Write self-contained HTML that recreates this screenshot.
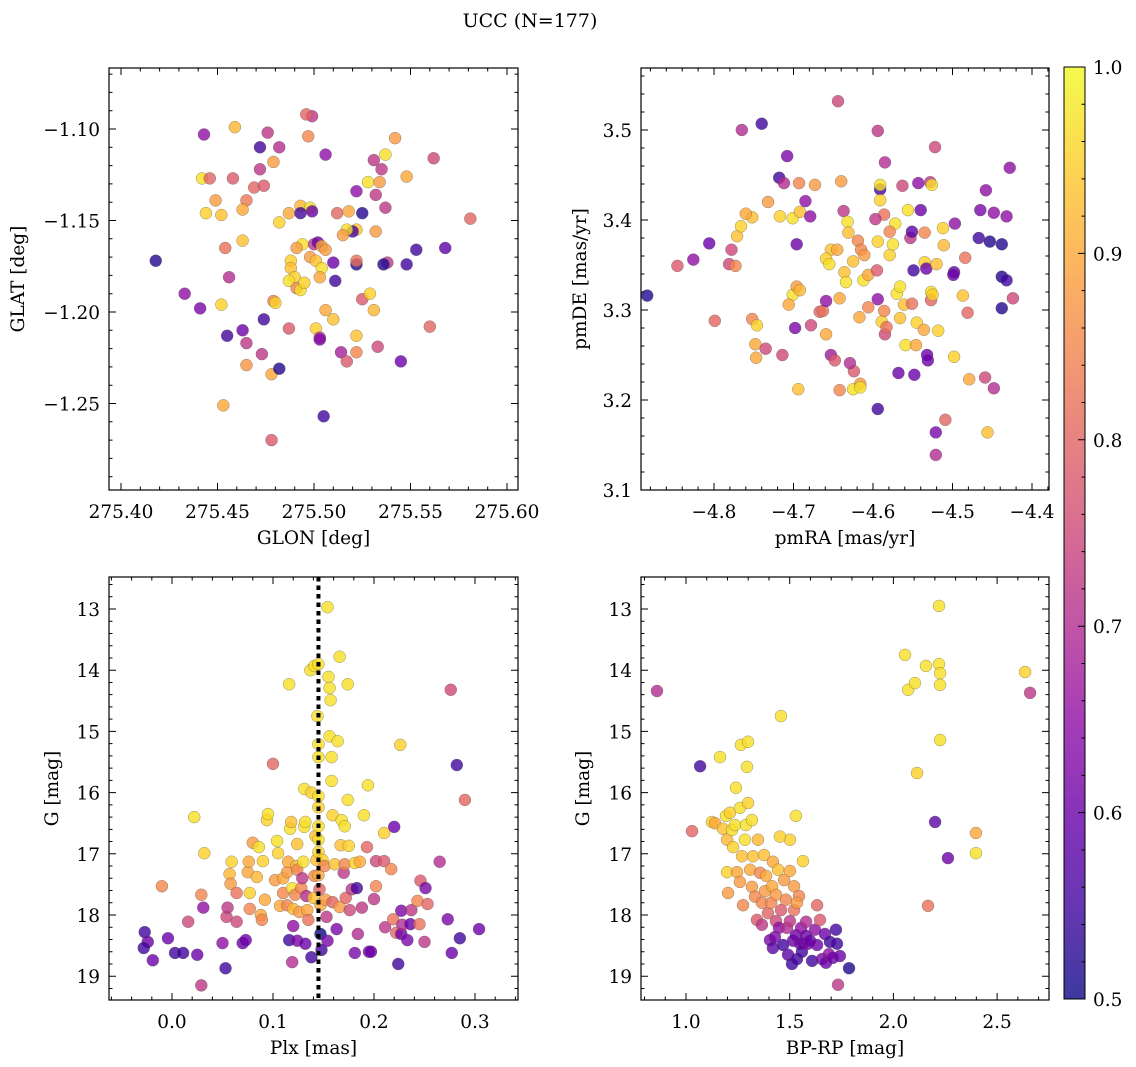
<!DOCTYPE html>
<html><head><meta charset="utf-8">
<style>
html,body{margin:0;padding:0;background:#fff;}
svg{display:block;font-family:"DejaVu Serif","Liberation Serif",serif;}
</style></head>
<body>
<svg id="fig" width="1136" height="1067" viewBox="0 0 1136 1067" xmlns="http://www.w3.org/2000/svg">
<text x="530" y="27" font-size="19" text-anchor="middle">UCC (N=177)</text>
</svg>
<script>
// ---- Panel 1: GLON vs GLAT ----
const p1Glon=[275.418,275.433,275.441,275.443,275.442,275.446,275.449,275.444,275.452,275.458,275.459,275.472,275.472,275.469,275.465,275.463,275.476,275.479,275.482,275.474,275.463,275.456,275.454,275.452,275.455,275.463,275.465,275.473,275.465,275.474,275.479,275.480,275.478,275.453,275.478,275.482,275.487,275.493,275.498,275.499,275.497,275.499,275.506,275.494,275.491,275.488,275.488,275.490,275.487,275.491,275.493,275.495,275.498,275.500,275.502,275.504,275.506,275.501,275.504,275.503,275.510,275.511,275.506,275.501,275.503,275.503,275.512,275.518,275.522,275.520,275.517,275.515,275.510,275.514,275.517,275.522,275.522,275.525,275.529,275.531,275.533,275.522,275.522,275.525,275.531,275.532,275.528,275.534,275.532,275.522,275.538,275.537,275.542,275.535,275.548,275.537,275.536,275.545,275.548,275.553,275.560,275.568,275.581,275.562,275.505,275.482,275.496,275.487,275.493];
const p1Glat=[-1.172,-1.190,-1.198,-1.103,-1.127,-1.127,-1.139,-1.146,-1.147,-1.127,-1.099,-1.110,-1.122,-1.132,-1.139,-1.144,-1.102,-1.118,-1.110,-1.131,-1.161,-1.181,-1.165,-1.196,-1.213,-1.210,-1.217,-1.223,-1.229,-1.204,-1.194,-1.195,-1.234,-1.251,-1.270,-1.151,-1.146,-1.142,-1.143,-1.145,-1.104,-1.093,-1.114,-1.163,-1.165,-1.172,-1.176,-1.181,-1.183,-1.187,-1.188,-1.184,-1.170,-1.163,-1.162,-1.164,-1.166,-1.172,-1.176,-1.181,-1.173,-1.183,-1.199,-1.209,-1.214,-1.215,-1.146,-1.145,-1.155,-1.156,-1.155,-1.158,-1.204,-1.222,-1.227,-1.222,-1.213,-1.193,-1.190,-1.199,-1.219,-1.174,-1.134,-1.146,-1.117,-1.156,-1.129,-1.129,-1.136,-1.172,-1.173,-1.114,-1.105,-1.122,-1.126,-1.143,-1.174,-1.227,-1.174,-1.166,-1.208,-1.165,-1.149,-1.116,-1.257,-1.231,-1.092,-1.209,-1.146];
const p1Prob=[0.52,0.65,0.62,0.65,0.97,0.80,0.88,0.95,0.93,0.78,0.92,0.55,0.72,0.80,0.83,0.90,0.72,0.88,0.70,0.78,0.93,0.70,0.82,0.95,0.55,0.60,0.72,0.72,0.87,0.55,0.85,0.95,0.90,0.90,0.78,0.95,0.90,0.92,0.97,0.60,0.85,0.72,0.65,0.97,0.88,0.95,0.93,0.95,0.97,0.85,0.97,0.95,0.88,0.72,0.60,0.90,0.88,0.93,0.97,0.90,0.60,0.55,0.90,0.95,0.70,0.63,0.80,0.90,0.93,0.55,0.97,0.88,0.93,0.68,0.78,0.85,0.93,0.78,0.95,0.92,0.75,0.52,0.65,0.52,0.72,0.88,0.97,0.88,0.72,0.82,0.72,0.97,0.88,0.72,0.90,0.72,0.52,0.60,0.55,0.55,0.80,0.58,0.80,0.75,0.55,0.52,0.80,0.78,0.55];
const p1XTicks=["275.40","275.45","275.50","275.55","275.60"];
const p1YTicks=["-1.10","-1.15","-1.20","-1.25"];

// ---- Panel 2: pmRA vs pmDE ----
const p2Pmra=[-4.884,-4.826,-4.846,-4.806,-4.799,-4.778,-4.781,-4.773,-4.765,-4.740,-4.752,-4.771,-4.766,-4.752,-4.760,-4.718,-4.708,-4.712,-4.693,-4.696,-4.732,-4.717,-4.701,-4.692,-4.679,-4.673,-4.685,-4.701,-4.696,-4.692,-4.706,-4.746,-4.748,-4.747,-4.735,-4.714,-4.694,-4.698,-4.678,-4.667,-4.663,-4.659,-4.659,-4.653,-4.648,-4.642,-4.625,-4.624,-4.629,-4.616,-4.616,-4.653,-4.659,-4.655,-4.645,-4.640,-4.644,-4.637,-4.632,-4.631,-4.636,-4.634,-4.625,-4.619,-4.615,-4.611,-4.612,-4.606,-4.606,-4.617,-4.642,-4.594,-4.591,-4.591,-4.591,-4.585,-4.586,-4.597,-4.594,-4.595,-4.594,-4.589,-4.586,-4.585,-4.583,-4.594,-4.579,-4.575,-4.572,-4.579,-4.570,-4.566,-4.561,-4.566,-4.568,-4.563,-4.556,-4.553,-4.551,-4.559,-4.546,-4.545,-4.548,-4.549,-4.551,-4.543,-4.540,-4.536,-4.535,-4.533,-4.532,-4.531,-4.528,-4.526,-4.527,-4.527,-4.535,-4.525,-4.522,-4.521,-4.521,-4.520,-4.518,-4.512,-4.511,-4.509,-4.497,-4.498,-4.499,-4.498,-4.487,-4.484,-4.481,-4.479,-4.467,-4.465,-4.458,-4.459,-4.456,-4.453,-4.448,-4.448,-4.438,-4.438,-4.438,-4.432,-4.432,-4.428,-4.424];
const p2Pmde=[3.316,3.356,3.349,3.374,3.288,3.367,3.351,3.349,3.500,3.507,3.290,3.382,3.393,3.403,3.407,3.447,3.471,3.441,3.441,3.373,3.420,3.404,3.402,3.409,3.404,3.439,3.421,3.317,3.326,3.322,3.306,3.283,3.262,3.247,3.257,3.250,3.212,3.280,3.283,3.298,3.299,3.273,3.310,3.250,3.244,3.211,3.212,3.232,3.241,3.218,3.214,3.367,3.357,3.351,3.367,3.443,3.532,3.410,3.398,3.386,3.342,3.331,3.354,3.377,3.367,3.361,3.333,3.339,3.303,3.292,3.313,3.499,3.434,3.439,3.422,3.464,3.406,3.401,3.376,3.344,3.312,3.287,3.299,3.273,3.281,3.190,3.361,3.373,3.396,3.387,3.318,3.326,3.306,3.291,3.230,3.438,3.411,3.380,3.307,3.261,3.261,3.286,3.228,3.344,3.387,3.441,3.411,3.278,3.353,3.346,3.250,3.244,3.442,3.439,3.320,3.311,3.386,3.317,3.481,3.139,3.164,3.351,3.277,3.391,3.372,3.178,3.396,3.342,3.339,3.248,3.316,3.358,3.297,3.223,3.380,3.411,3.433,3.225,3.164,3.376,3.213,3.408,3.373,3.337,3.302,3.333,3.404,3.458,3.313];
const p2Prob=[0.52,0.65,0.78,0.60,0.80,0.75,0.75,0.85,0.70,0.55,0.85,0.93,0.95,0.93,0.90,0.55,0.62,0.70,0.85,0.60,0.88,0.95,0.97,0.93,0.65,0.88,0.65,0.97,0.88,0.92,0.90,0.95,0.90,0.90,0.75,0.75,0.93,0.62,0.75,0.80,0.82,0.90,0.65,0.67,0.78,0.85,0.97,0.78,0.70,0.88,0.97,0.93,0.95,0.97,0.90,0.88,0.75,0.72,0.97,0.93,0.93,0.97,0.93,0.85,0.85,0.88,0.97,0.90,0.85,0.90,0.90,0.72,0.55,0.97,0.95,0.70,0.82,0.72,0.95,0.78,0.65,0.95,0.85,0.75,0.82,0.55,0.95,0.97,0.97,0.85,0.97,0.97,0.93,0.93,0.60,0.75,0.97,0.72,0.82,0.97,0.90,0.95,0.60,0.55,0.58,0.65,0.60,0.90,0.95,0.60,0.60,0.60,0.72,0.97,0.97,0.80,0.85,0.95,0.75,0.70,0.62,0.93,0.95,0.95,0.92,0.80,0.65,0.60,0.60,0.95,0.93,0.82,0.80,0.90,0.55,0.62,0.65,0.75,0.93,0.52,0.70,0.65,0.52,0.52,0.52,0.55,0.65,0.65,0.75];
const p2XTicks=["-4.8","-4.7","-4.6","-4.5","-4.4"];
const p2YTicks=["3.1","3.2","3.3","3.4","3.5"];

// ---- Panel 3: Plx vs G ----
const p3Plx=[-0.027,-0.024,-0.028,-0.019,-0.010,-0.004,0.003,0.011,0.016,0.022,0.025,0.029,0.029,0.031,0.032,0.053,0.050,0.054,0.055,0.057,0.058,0.059,0.064,0.064,0.070,0.073,0.075,0.077,0.077,0.076,0.080,0.084,0.086,0.088,0.089,0.092,0.090,0.094,0.095,0.100,0.102,0.105,0.104,0.107,0.110,0.110,0.114,0.114,0.115,0.116,0.117,0.118,0.119,0.120,0.116,0.120,0.119,0.122,0.123,0.124,0.124,0.124,0.126,0.128,0.129,0.130,0.131,0.132,0.131,0.132,0.133,0.134,0.135,0.137,0.138,0.138,0.140,0.141,0.142,0.143,0.141,0.144,0.145,0.145,0.145,0.145,0.145,0.145,0.145,0.145,0.146,0.147,0.147,0.148,0.145,0.149,0.151,0.152,0.153,0.154,0.154,0.155,0.156,0.156,0.157,0.158,0.158,0.159,0.159,0.161,0.163,0.164,0.166,0.166,0.167,0.168,0.170,0.171,0.171,0.172,0.174,0.174,0.175,0.176,0.178,0.181,0.181,0.183,0.184,0.186,0.190,0.188,0.193,0.194,0.195,0.197,0.200,0.202,0.202,0.210,0.210,0.211,0.217,0.219,0.220,0.222,0.224,0.226,0.227,0.227,0.228,0.233,0.236,0.237,0.243,0.245,0.246,0.250,0.251,0.253,0.265,0.273,0.276,0.277,0.282,0.285,0.290,0.304];
const p3G=[18.28,18.44,18.54,18.74,17.53,18.38,18.62,18.62,18.11,16.40,18.65,19.15,17.67,17.88,16.99,18.87,18.46,18.03,17.88,17.33,17.49,17.13,17.64,18.11,18.46,18.41,17.30,17.64,17.90,17.13,16.82,17.38,16.89,18.00,18.08,17.75,17.12,16.45,16.35,15.53,17.43,16.99,16.79,17.85,17.64,17.40,17.30,17.84,17.13,18.41,16.59,16.48,17.56,17.90,14.23,18.18,18.77,17.67,17.20,16.84,17.26,18.42,17.95,17.56,17.40,17.13,16.56,16.48,15.94,18.47,17.69,17.92,18.08,14.00,16.00,18.69,17.72,13.93,16.71,17.10,17.36,14.75,13.90,15.21,15.42,16.06,16.24,16.55,16.77,16.97,17.58,17.84,18.31,18.57,17.35,17.10,17.20,17.75,18.03,18.42,12.97,14.11,14.29,15.08,14.49,15.81,15.42,16.37,17.79,17.17,18.23,15.16,13.78,17.87,16.86,16.45,17.31,16.55,17.17,17.72,14.23,16.12,16.87,17.92,17.58,17.15,18.62,17.56,18.31,17.13,16.37,17.88,16.89,15.88,18.60,18.60,17.74,17.53,17.12,16.66,17.12,18.20,17.25,18.07,16.56,18.29,18.80,15.22,17.93,18.31,18.16,18.41,18.15,17.92,17.77,18.15,17.44,18.44,17.56,17.82,17.13,18.07,14.32,18.62,15.55,18.38,16.12,18.23];
const p3Prob=[0.55,0.60,0.55,0.60,0.85,0.60,0.55,0.55,0.75,0.97,0.60,0.72,0.85,0.65,0.95,0.55,0.65,0.75,0.72,0.92,0.88,0.95,0.82,0.75,0.60,0.60,0.90,0.95,0.85,0.90,0.88,0.92,0.97,0.90,0.85,0.90,0.95,0.95,0.97,0.80,0.88,0.95,0.97,0.90,0.85,0.90,0.88,0.85,0.90,0.55,0.97,0.93,0.97,0.92,0.97,0.65,0.70,0.85,0.92,0.93,0.85,0.62,0.88,0.85,0.72,0.97,0.97,0.97,0.97,0.60,0.70,0.90,0.82,0.97,0.95,0.55,0.93,0.97,0.93,0.93,0.85,0.97,0.97,0.97,0.97,0.97,0.95,0.97,0.97,0.95,0.80,0.90,0.50,0.55,0.90,0.95,0.85,0.88,0.72,0.62,0.97,0.97,0.97,0.97,0.97,0.97,0.97,0.95,0.80,0.93,0.62,0.97,0.97,0.88,0.93,0.97,0.72,0.97,0.85,0.80,0.97,0.97,0.95,0.75,0.72,0.95,0.62,0.55,0.70,0.90,0.97,0.72,0.80,0.97,0.62,0.60,0.72,0.85,0.75,0.95,0.78,0.72,0.85,0.82,0.60,0.80,0.55,0.95,0.62,0.60,0.70,0.62,0.60,0.72,0.85,0.82,0.78,0.72,0.62,0.80,0.70,0.62,0.75,0.60,0.55,0.55,0.80,0.60];
const p3PlxMean=[0.145];
const p3XTicks=["0.0","0.1","0.2","0.3"];
const gTicks=["13","14","15","16","17","18","19"];

// ---- Panel 4: BP-RP vs G ----
const p4Bprp=[0.860,1.068,1.029,1.125,1.140,1.164,1.178,1.193,1.198,1.212,1.222,1.198,1.203,1.227,1.236,1.241,1.260,1.265,1.270,1.246,1.260,1.275,1.284,1.289,1.299,1.294,1.299,1.318,1.309,1.318,1.323,1.333,1.342,1.347,1.357,1.366,1.366,1.376,1.381,1.386,1.395,1.405,1.410,1.415,1.419,1.419,1.429,1.434,1.434,1.444,1.448,1.458,1.458,1.468,1.473,1.482,1.487,1.492,1.501,1.501,1.511,1.516,1.521,1.521,1.530,1.530,1.535,1.545,1.550,1.555,1.559,1.564,1.564,1.579,1.579,1.588,1.598,1.608,1.622,1.632,1.632,1.646,1.656,1.670,1.675,1.689,1.694,1.708,1.723,1.728,1.733,1.742,1.786,1.453,1.501,1.535,2.056,2.071,2.104,2.114,2.167,2.157,2.201,2.220,2.220,2.225,2.225,2.225,2.263,2.398,2.398,2.635,2.659];
const p4G=[14.34,15.57,16.63,16.48,16.50,15.42,16.59,16.38,16.77,16.33,16.61,17.30,17.64,16.89,16.53,15.92,16.25,15.22,17.04,17.30,17.46,17.84,16.77,16.53,15.17,15.58,16.17,16.45,17.26,17.54,17.04,17.70,18.08,16.77,17.31,17.80,18.16,17.02,17.61,17.36,17.97,18.41,17.80,17.53,17.13,18.54,18.36,18.10,17.67,17.26,18.21,17.92,14.75,18.49,17.43,17.75,18.21,18.65,16.77,18.10,18.80,18.42,17.92,17.53,18.33,16.38,18.72,17.69,18.47,18.21,18.60,17.12,18.47,18.11,18.34,18.47,18.42,18.75,18.24,18.49,17.84,18.08,18.72,18.31,18.78,18.64,18.44,18.70,18.24,18.47,19.14,18.67,18.87,16.72,17.28,17.80,13.75,14.32,14.21,15.68,17.85,13.93,16.48,12.95,13.90,14.05,14.24,15.14,17.07,16.66,16.99,14.03,14.37];
const p4Prob=[0.70,0.55,0.80,0.95,0.90,0.97,0.93,0.97,0.92,0.95,0.97,0.95,0.88,0.95,0.97,0.97,0.97,0.97,0.93,0.90,0.88,0.85,0.97,0.97,0.97,0.97,0.95,0.97,0.90,0.88,0.93,0.85,0.78,0.92,0.85,0.85,0.72,0.93,0.88,0.90,0.80,0.62,0.85,0.90,0.90,0.58,0.62,0.75,0.88,0.93,0.65,0.78,0.97,0.55,0.88,0.85,0.70,0.58,0.95,0.72,0.55,0.60,0.82,0.88,0.60,0.97,0.55,0.85,0.62,0.65,0.55,0.95,0.60,0.70,0.60,0.62,0.60,0.55,0.65,0.60,0.80,0.78,0.62,0.60,0.60,0.65,0.55,0.60,0.55,0.55,0.72,0.60,0.52,0.95,0.90,0.88,0.97,0.97,0.97,0.95,0.82,0.97,0.58,0.97,0.97,0.97,0.97,0.97,0.60,0.90,0.97,0.95,0.72];
const p4XTicks=["1.0","1.5","2.0","2.5"];
const cbTicks=["0.5","0.6","0.7","0.8","0.9","1.0"];

const NS="http://www.w3.org/2000/svg";
const svg=document.getElementById('fig');
const FS=18.5;
const PL=["#0d0887","#41049d","#6a00a8","#8f0da4","#b12a90","#cc4778","#e16462","#f2844b","#fca636","#fcce25","#f0f921"];
function hex(h){return [1,3,5].map(i=>parseInt(h.substr(i,2),16));}
function plasma(t){t=Math.max(0,Math.min(1,t));const f=t*10,i=Math.min(9,Math.floor(f)),r=f-i;const a=hex(PL[i]),b=hex(PL[i+1]);return 'rgb('+a.map((v,k)=>Math.round(v+(b[k]-v)*r)).join(',')+')';}
function probColor(p){return plasma((p-0.5)/0.5);}
function mk(tag,attrs,parent){const e=document.createElementNS(NS,tag);for(const k in attrs)e.setAttribute(k,attrs[k]);(parent||svg).appendChild(e);return e;}
function fmt(s){return s.replace('-','\u2212');}

function panel(c){
  const g=mk('g',{});
  
  
  const sx=v=>c.L+(v-c.x0)/(c.x1-c.x0)*c.W;
  const sy=v=>c.T+(c.y1-v)/(c.y1-c.y0)*c.H;
  const n=Math.min(c.xs.length,c.ys.length,c.ps.length);
  for(let i=0;i<n;i++){
    const pt=mk('circle',{cx:sx(c.xs[i]),cy:sy(c.ys[i]),r:6,fill:probColor(c.ps[i]),'fill-opacity':0.8,stroke:'#555','stroke-width':0.5,'stroke-opacity':0.6},g);
    
    
  }
  if(c.vline){
    const vl=mk('line',{x1:sx(c.vline[0]),x2:sx(c.vline[0]),y1:c.T,y2:c.T+c.H,stroke:'#000','stroke-width':4,'stroke-dasharray':'4.5,4'},g);
    
    
  }
  const fr=mk('rect',{x:c.L,y:c.T,width:c.W,height:c.H,fill:'none',stroke:'#000','stroke-width':1.2},g);
  
  
  let d='';
  const B=c.T+c.H,R=c.L+c.W;
  const lo=Math.min(c.x0,c.x1),hi=Math.max(c.x0,c.x1);
  for(let k=Math.ceil(lo/c.xmin-1e-6);k*c.xmin<=hi+1e-9;k++){
    const v=k*c.xmin,x=sx(v);const maj=Math.abs(v/c.xmaj-Math.round(v/c.xmaj))<1e-4;const l=maj?7:3.5;
    d+=`M${x},${B}v${-l}M${x},${c.T}v${l}`;
  }
  const ylo=Math.min(c.y0,c.y1),yhi=Math.max(c.y0,c.y1);
  for(let k=Math.ceil(ylo/c.ymin-1e-6);k*c.ymin<=yhi+1e-9;k++){
    const v=k*c.ymin,y=sy(v);const maj=Math.abs(v/c.ymaj-Math.round(v/c.ymaj))<1e-4;const l=maj?7:3.5;
    d+=`M${c.L},${y}h${l}M${R},${y}h${-l}`;
  }
  const tk=mk('path',{d:d,stroke:'#000','stroke-width':1,fill:'none'},g);
  
  
  c.xt.forEach(s=>{const t=mk('text',{x:sx(parseFloat(s)),y:B+28,'font-size':FS,'text-anchor':'middle'},g);t.textContent=fmt(s);
    });
  c.yt.forEach(s=>{const t=mk('text',{x:c.L-9,y:sy(parseFloat(s))+7,'font-size':FS,'text-anchor':'end'},g);t.textContent=fmt(s);
    });
  const xl=mk('text',{x:c.L+c.W/2,y:B+54,'font-size':FS,'text-anchor':'middle'},g);xl.textContent=c.xlab;
  
  const yx=c.ylx,yy=c.T+c.H/2;
  const yl=mk('text',{x:yx,y:yy,'font-size':FS,'text-anchor':'middle',transform:`rotate(-90 ${yx} ${yy})`},g);yl.textContent=c.ylab;
  
}

panel({name:'glon-glat-panel',L:109,T:68,W:409,H:422,x0:275.40-12/1930,x1:275.40+397/1930,y0:-1.10-361/1830,y1:-1.10+61/1830,
  xs:p1Glon,ys:p1Glat,ps:p1Prob,xmaj:0.05,xmin:0.01,ymaj:0.05,ymin:0.01,xt:p1XTicks,yt:p1YTicks,xlab:'GLON [deg]',ylab:'GLAT [deg]',ylx:24});
panel({name:'pm-panel',L:641,T:68,W:408,H:422,x0:-4.8-73/795,x1:-4.8+335/795,y0:3.1,y1:3.1+422/900,
  xs:p2Pmra,ys:p2Pmde,ps:p2Prob,xmaj:0.1,xmin:0.02,ymaj:0.1,ymin:0.02,xt:p2XTicks,yt:p2YTicks,xlab:'pmRA [mas/yr]',ylab:'pmDE [mas/yr]',ylx:586});
panel({name:'plx-g-panel',L:109,T:577,W:409,H:423,x0:-63/1010,x1:346/1010,y0:13+391/61.2,y1:13-32/61.2,
  xs:p3Plx,ys:p3G,ps:p3Prob,vline:p3PlxMean,xmaj:0.1,xmin:0.02,ymaj:1,ymin:0.2,xt:p3XTicks,yt:gTicks,xlab:'Plx [mas]',ylab:'G [mag]',ylx:58});
panel({name:'cmd-panel',L:641,T:577,W:408,H:423,x0:1.0-45/207.4,x1:1.0+363/207.4,y0:13+391/61.2,y1:13-32/61.2,
  xs:p4Bprp,ys:p4G,ps:p4Prob,xmaj:0.5,xmin:0.1,ymaj:1,ymin:0.2,xt:p4XTicks,yt:gTicks,xlab:'BP-RP [mag]',ylab:'G [mag]',ylx:589});

(function(){
  const L=1064,T=67,W=21,H=932;
  const defs=mk('defs',{});
  const lg=mk('linearGradient',{id:'cbg',x1:0,y1:1,x2:0,y2:0},defs);
  PL.forEach((c,i)=>mk('stop',{offset:(i/10),'stop-color':c},lg));
  const cb=mk('rect',{x:L,y:T,width:W,height:H,fill:'url(#cbg)','fill-opacity':0.8,stroke:'#000','stroke-width':1});
  
  
  const sy=v=>T+(1.0-v)/0.5*H;
  let d='';
  for(let k=25;k<=50;k++){const v=k*0.02,y=sy(v);d+=`M${L+W},${y}h${k%5===0?-7:-3.5}`;}
  const tk=mk('path',{d:d,stroke:'#000','stroke-width':1});
  
  
  cbTicks.forEach(s=>{const t=mk('text',{x:L+W+8,y:sy(parseFloat(s))+7,'font-size':FS});t.textContent=s;
    });
})();
</script>
</body></html>
